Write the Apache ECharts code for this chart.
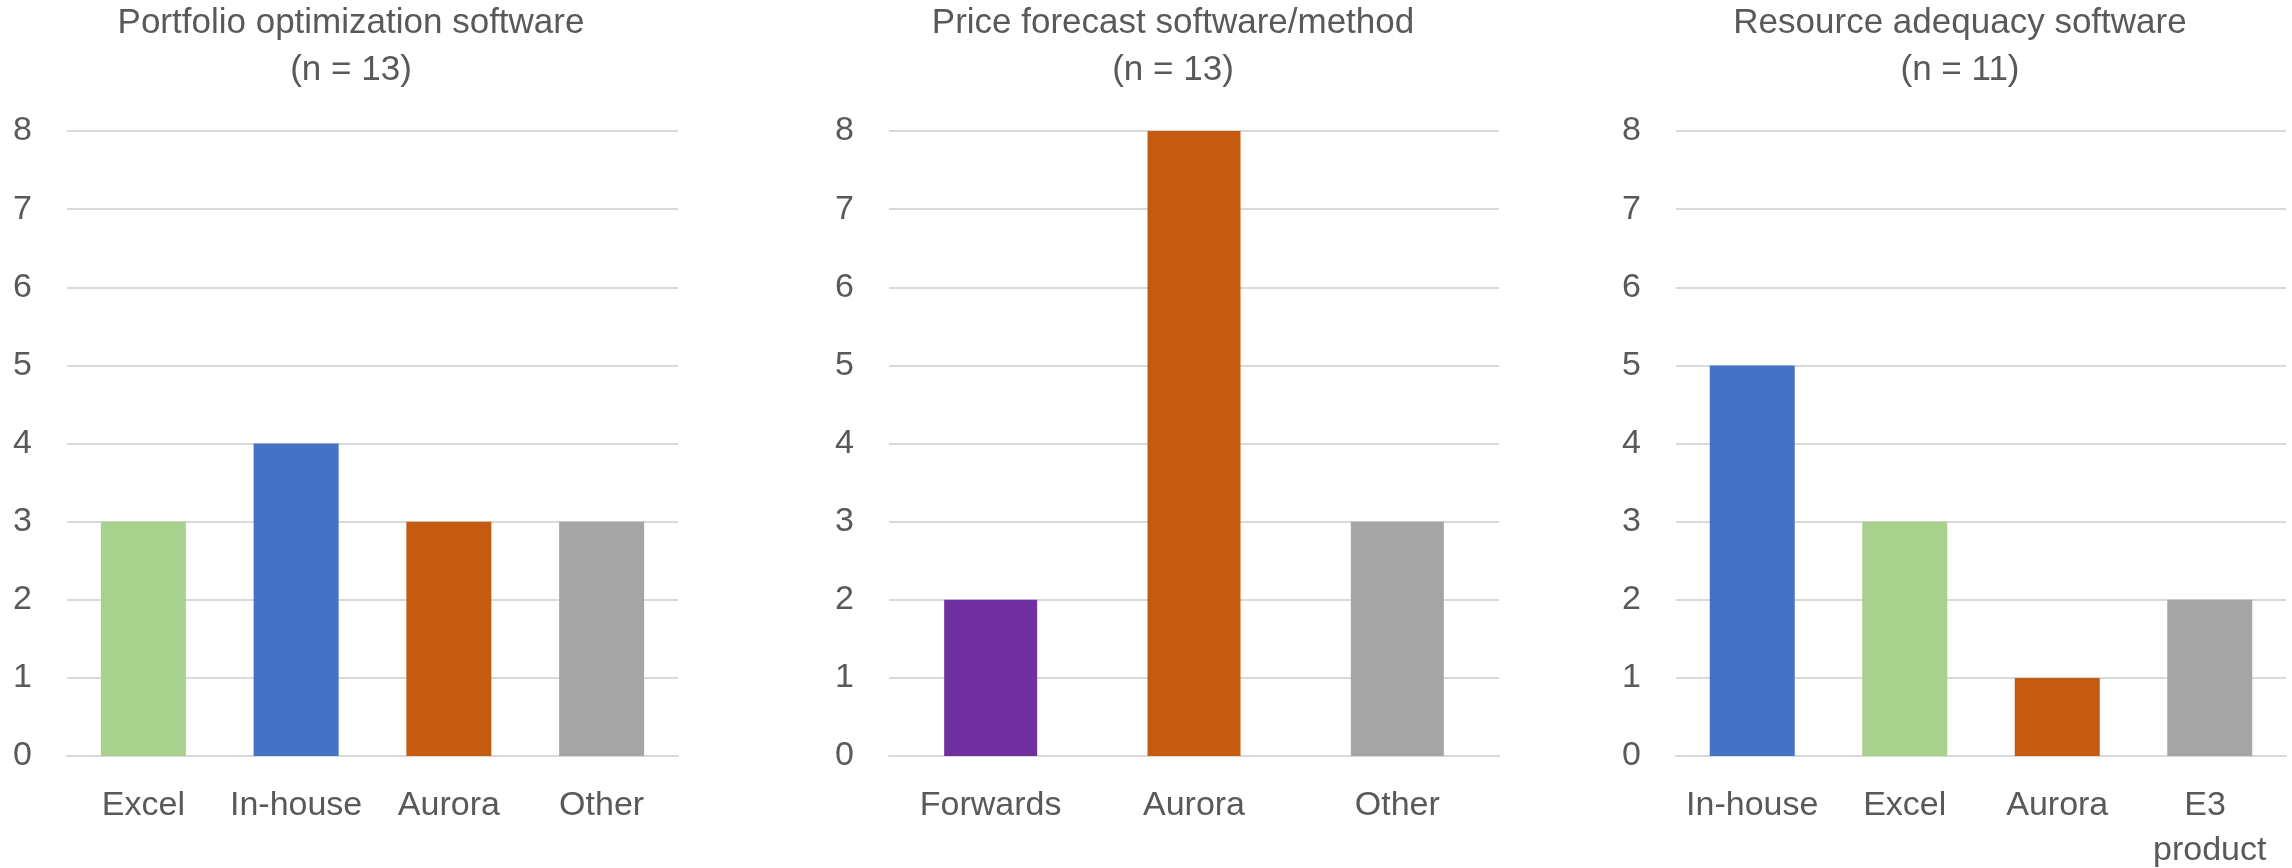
<!DOCTYPE html>
<html>
<head>
<meta charset="utf-8">
<script src="https://cdn.jsdelivr.net/npm/echarts@6/dist/echarts.min.js"></script>
<style>
  html, body { margin: 0; padding: 0; background: #ffffff; }
  #chart { width: 2292px; height: 868px; }
</style>
</head>
<body>
<div id="chart"></div>
<script>
// ---- data ----
const panelTitles = ['Portfolio optimization software', 'Price forecast software/method', 'Resource adequacy software'];
const panelN = [13, 13, 11];

const categories1 = ['Excel', 'In-house', 'Aurora', 'Other'];
const values1 = [3, 4, 3, 3];

const categories2 = ['Forwards', 'Aurora', 'Other'];
const values2 = [2, 8, 3];

const categories3 = ['In-house', 'Excel', 'Aurora', 'E3 product'];
const values3 = [5, 3, 1, 2];

const yMin = 0, yMax = 8, yStep = 1;

// ---- styles ----
const colorByCategory = {
  'Excel': '#A9D18E',
  'In-house': '#4472C4',
  'Aurora': '#C55A11',
  'Other': '#A5A5A5',
  'Forwards': '#7030A0',
  'E3 product': '#A5A5A5'
};
const FONT = "'Liberation Sans', Arial, sans-serif";
const TEXT = '#595959';
const GRIDC = '#D9D9D9';

const grids = [
  { left: 67, top: 131, width: 611, height: 625 },
  { left: 889, top: 131, width: 610, height: 625 },
  { left: 1676, top: 131, width: 610, height: 625 }
];
const titleCenters = [351, 1173, 1960];
const barWidths = [85, 93, 85];
const labelWidths = [150, 150, 145];

const panels = [
  { cats: categories1, vals: values1 },
  { cats: categories2, vals: values2 },
  { cats: categories3, vals: values3 }
];

const chart = echarts.init(document.getElementById('chart'), null, { renderer: 'canvas' });

const option = {
  backgroundColor: '#ffffff',
  animation: false,
  title: panelTitles.map((t, i) => ({
    text: t + '\n(n = ' + panelN[i] + ')',
    left: titleCenters[i],
    top: 0,
    padding: 0,
    textAlign: 'center',
    textStyle: {
      fontFamily: FONT,
      fontSize: 35,
      fontWeight: 'normal',
      color: TEXT,
      lineHeight: 47
    }
  })),
  grid: grids.map(g => Object.assign({ containLabel: false, outerBoundsMode: 'none' }, g)),
  xAxis: panels.map((p, i) => ({
    type: 'category',
    gridIndex: i,
    data: p.cats,
    axisLine: { show: true, lineStyle: { color: GRIDC, width: 2 } },
    axisTick: { show: false },
    axisLabel: {
      interval: 0,
      margin: 27,
      fontFamily: FONT,
      fontSize: 34,
      color: TEXT,
      lineHeight: 45,
      width: labelWidths[i],
      overflow: 'break',
      align: 'center'
    },
    splitLine: { show: false }
  })),
  yAxis: panels.map((p, i) => ({
    type: 'value',
    gridIndex: i,
    min: yMin,
    max: yMax,
    interval: yStep,
    axisLine: { show: false },
    axisTick: { show: false },
    axisLabel: {
      margin: 35,
      fontFamily: FONT,
      fontSize: 34,
      color: TEXT
    },
    splitLine: { show: true, lineStyle: { color: GRIDC, width: 2 } }
  })),
  series: panels.map((p, i) => ({
    type: 'bar',
    xAxisIndex: i,
    yAxisIndex: i,
    data: p.vals,
    barWidth: barWidths[i],
    itemStyle: {
      color: (params) => colorByCategory[p.cats[params.dataIndex]]
    },
    z: 1
  }))
};

chart.setOption(option);
</script>
</body>
</html>
